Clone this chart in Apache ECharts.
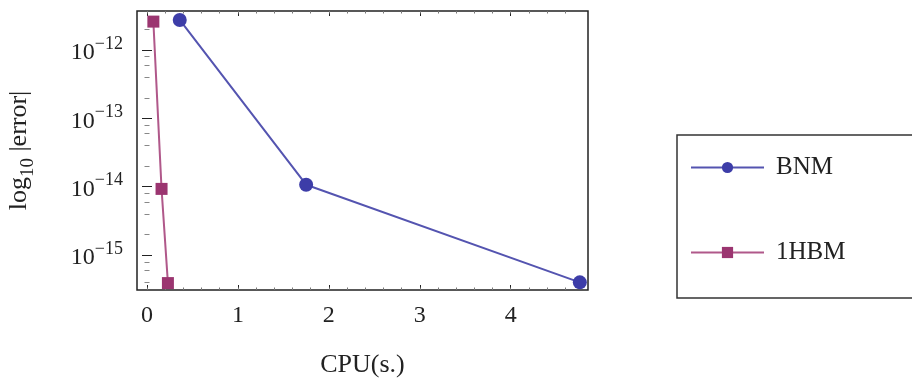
<!DOCTYPE html>
<html>
<head>
    <meta charset="UTF-8">
    <title>log10 |error| vs CPU</title>
    <script src="https://cdn.jsdelivr.net/npm/echarts@6/dist/echarts.min.js"></script>
    <style>
        body { margin: 0; background: #fff; }
        #main { width: 912px; height: 381px; }
    </style>
</head>
<body>
    <div id="main"></div>
    <script>
        // data
        var seriesNames = ['BNM', '1HBM'];
        var bnmCpu = [0.36, 1.75, 4.76];
        var bnmErr = [2.75e-12, 1.07e-14, 4.0e-16];
        var hbmCpu = [0.07, 0.16, 0.23];
        var hbmErr = [2.6e-12, 9.3e-15, 3.9e-16];
        var xTicks = [0, 1, 2, 3, 4];
        var yExponents = [-15, -14, -13, -12];

        var font = '"Liberation Serif", "DejaVu Serif", serif';

        function toPoints(xs, errs) {
            var res = [];
            for (var i = 0; i < xs.length; i++) {
                res.push([xs[i], Math.log10(errs[i])]);
            }
            return res;
        }

        // minor tick positions
        var xMinor = [];
        for (var v = 0; v <= 4.8; v += 0.2) xMinor.push(Math.round(v * 10) / 10);
        var yMinor = [];
        for (var e = -16; e <= -12; e++) {
            [2, 4, 6, 8].forEach(function (k) { yMinor.push(e + Math.log10(k)); });
        }
        var yMajor = yExponents;

        var xMin = -0.11, xMax = 4.85;
        var yMin = -15.51, yMax = -11.43;

        function xAxisCfg(pos, values, len, color, showLabel) {
            return {
                type: 'value', position: pos, min: xMin, max: xMax,
                axisLine: { show: false },
                splitLine: { show: false },
                axisTick: { show: true, inside: true, length: len, customValues: values,
                    lineStyle: { color: color, width: 1 } },
                axisLabel: showLabel ? {
                    customValues: xTicks, margin: 14,
                    fontFamily: font, fontSize: 24, color: '#222'
                } : { show: false }
            };
        }
        function yAxisCfg(pos, values, len, color, showLabel) {
            return {
                type: 'value', position: pos, min: yMin, max: yMax,
                axisLine: { show: false },
                splitLine: { show: false },
                axisTick: { show: true, inside: true, length: len, customValues: values,
                    lineStyle: { color: color, width: 1 } },
                axisLabel: showLabel ? {
                    customValues: yExponents, margin: 14,
                    formatter: function (val) {
                        return '{b|10}{s|' + String(Math.round(val)).replace('-', '\u2212') + '}';
                    },
                    rich: {
                        b: { fontFamily: font, fontSize: 24, color: '#222', lineHeight: 30, verticalAlign: 'bottom', padding: [6, 0, 0, 0] },
                        s: { fontFamily: font, fontSize: 18, color: '#222', lineHeight: 30, verticalAlign: 'top' }
                    }
                } : { show: false }
            };
        }

        var xAxes = [
            xAxisCfg('bottom', xTicks, 5, '#222', true),
            xAxisCfg('bottom', xMinor, 2.5, '#777', false),
            xAxisCfg('top', xTicks, 5, '#222', false),
            xAxisCfg('top', xMinor, 2.5, '#777', false)
        ];
        xAxes[0].name = 'CPU(s.)';
        xAxes[0].nameLocation = 'middle';
        xAxes[0].nameGap = 62;
        xAxes[0].nameTextStyle = { fontFamily: font, fontSize: 26, color: '#222' };

        var yAxes = [
            yAxisCfg('left', yMajor, 5, '#222', true),
            yAxisCfg('left', yMinor, 2.5, '#888', false),
            yAxisCfg('right', yMajor, 5, '#222', false),
            yAxisCfg('right', yMinor, 2.5, '#888', false)
        ];
        yAxes[0].name = '{n|log}{sub|10}{n| |error|}';
        yAxes[0].nameLocation = 'middle';
        yAxes[0].nameGap = 99;
        yAxes[0].nameRotate = 90;
        yAxes[0].nameTextStyle = {
            rich: {
                n: { fontFamily: font, fontSize: 26, color: '#222', lineHeight: 32, verticalAlign: 'top' },
                sub: { fontFamily: font, fontSize: 19, color: '#222', lineHeight: 32, verticalAlign: 'bottom' }
            }
        };

        var chart = echarts.init(document.getElementById('main'));
        var option = {
            animation: false,
            backgroundColor: '#fff',
            grid: {
                left: 137, top: 11, width: 451, height: 279,
                outerBoundsMode: 'none',
                show: true, borderColor: '#222', borderWidth: 1.5
            },
            xAxis: xAxes,
            yAxis: yAxes,
            legend: {
                orient: 'vertical',
                left: 685, top: 150,
                itemWidth: 73, itemHeight: 14, itemGap: 60,
                textStyle: { fontFamily: font, fontSize: 25, color: '#222', padding: [0, 0, 0, 7] },
                data: seriesNames
            },
            graphic: [{
                type: 'rect',
                shape: { x: 677, y: 135, width: 260, height: 163 },
                style: { fill: 'none', stroke: '#333', lineWidth: 1.5 },
                z: 0
            }],
            series: [
                {
                    name: seriesNames[0], type: 'line',
                    data: toPoints(bnmCpu, bnmErr),
                    symbol: 'circle', symbolSize: 14,
                    lineStyle: { color: '#5454b0', width: 2 },
                    itemStyle: { color: '#3d3da8' }
                },
                {
                    name: seriesNames[1], type: 'line',
                    data: toPoints(hbmCpu, hbmErr),
                    symbol: 'rect', symbolSize: 12,
                    lineStyle: { color: '#b0588a', width: 2 },
                    itemStyle: { color: '#9b3570' }
                }
            ]
        };
        chart.setOption(option);
    </script>
</body>
</html>
